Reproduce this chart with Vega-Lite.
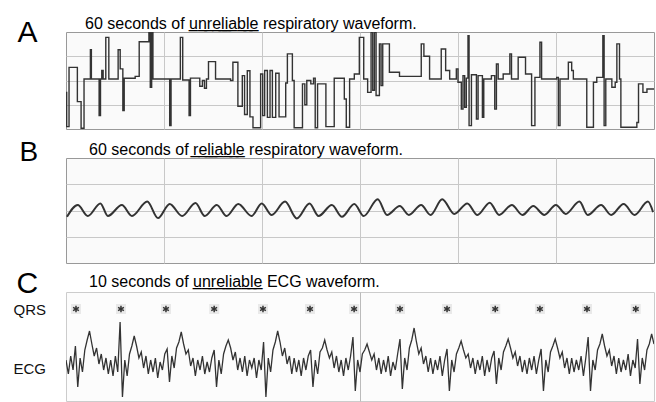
{
"$schema": "https://vega.github.io/schema/vega-lite/v6.json",
"background": "white",
"padding": {"left": 12, "top": 15, "right": 0, "bottom": 0},
"spacing": 29,
"bounds": "flush",
"config": {
  "font": "Liberation Sans",
  "view": {"stroke": "#999999", "fill": "#fafafa"},
  "title": {"anchor": "start", "fontSize": 16, "fontWeight": "normal", "color": "#000000", "font": "Liberation Sans", "frame": "group"},
  "axis": {"labelFont": "Liberation Sans", "titleFont": "Liberation Sans"}
},
"datasets": {
"resp_a": [
{"t":0,"v":1.51},{"t":0.07,"v":0.1},{"t":0.31,"v":2.54},{"t":1.16,"v":1.13},{"t":1.54,"v":0.03},{"t":1.84,"v":2.06},{"t":2.49,"v":3.27},{"t":2.59,"v":2.06},{"t":3.38,"v":0.55},{"t":3.52,"v":2.06},{"t":3.65,"v":2.41},{"t":3.79,"v":2.06},{"t":4.06,"v":3.78},{"t":4.37,"v":2.06},{"t":5.32,"v":3.27},{"t":5.53,"v":2.48},{"t":5.8,"v":0.76},{"t":5.94,"v":2.09},{"t":7.06,"v":2.17},{"t":7.47,"v":3.6},{"t":8.46,"v":3.99},{"t":8.6,"v":1.72},{"t":8.74,"v":3.99},{"t":8.87,"v":2.06},{"t":10.58,"v":0.14},{"t":10.72,"v":2.06},{"t":11.67,"v":3.78},{"t":11.91,"v":2.02},{"t":12.56,"v":0.55},{"t":12.7,"v":2.1},{"t":13.65,"v":1.76},{"t":13.92,"v":2.0},{"t":14.13,"v":1.68},{"t":14.33,"v":2.06},{"t":14.54,"v":2.78},{"t":15.26,"v":2.06},{"t":16.79,"v":2.0},{"t":17.03,"v":2.75},{"t":17.54,"v":0.94},{"t":17.99,"v":2.2},{"t":18.22,"v":0.6},{"t":18.5,"v":2.4},{"t":18.77,"v":0.5},{"t":19.08,"v":0.05},{"t":19.86,"v":2.27},{"t":20.07,"v":0.55},{"t":20.27,"v":2.41},{"t":20.55,"v":0.48},{"t":20.82,"v":2.41},{"t":21.06,"v":0.48},{"t":21.4,"v":2.3},{"t":21.74,"v":0.5},{"t":22.42,"v":1.9},{"t":22.59,"v":3.1},{"t":23.1,"v":2.0},{"t":23.28,"v":0.05},{"t":24.13,"v":1.86},{"t":24.37,"v":1.0},{"t":24.57,"v":2.0},{"t":24.98,"v":1.86},{"t":25.26,"v":2.1},{"t":25.43,"v":0.05},{"t":25.67,"v":1.86},{"t":26.52,"v":0.1},{"t":27.37,"v":2.09},{"t":28.4,"v":1.24},{"t":28.6,"v":0.07},{"t":28.94,"v":2.06},{"t":29.42,"v":2.27},{"t":29.93,"v":3.78},{"t":30.38,"v":2.06},{"t":30.78,"v":1.51},{"t":31.13,"v":3.99},{"t":31.3,"v":1.6},{"t":31.47,"v":3.99},{"t":31.64,"v":1.38},{"t":31.98,"v":3.51},{"t":32.15,"v":1.79},{"t":32.32,"v":3.51},{"t":33.0,"v":2.34},{"t":34.03,"v":2.17},{"t":36.25,"v":3.51},{"t":36.52,"v":3.0},{"t":37.1,"v":2.06},{"t":38.29,"v":3.3},{"t":38.74,"v":2.41},{"t":39.15,"v":2.06},{"t":39.83,"v":2.48},{"t":40.0,"v":1.93},{"t":40.34,"v":0.82},{"t":40.51,"v":2.2},{"t":40.68,"v":0.9},{"t":40.85,"v":2.1},{"t":41.02,"v":3.85},{"t":41.13,"v":0.14},{"t":41.37,"v":2.24},{"t":41.88,"v":0.41},{"t":42.05,"v":2.2},{"t":42.49,"v":0.48},{"t":42.63,"v":2.06},{"t":43.41,"v":2.2},{"t":43.75,"v":0.82},{"t":43.92,"v":2.68},{"t":44.1,"v":2.06},{"t":44.61,"v":2.27},{"t":45.29,"v":3.1},{"t":45.46,"v":2.06},{"t":46.14,"v":2.96},{"t":46.89,"v":2.27},{"t":47.51,"v":0.14},{"t":47.85,"v":2.13},{"t":48.36,"v":3.58},{"t":48.53,"v":2.06},{"t":50.07,"v":2.13},{"t":50.24,"v":0.14},{"t":50.41,"v":2.06},{"t":51.26,"v":2.75},{"t":51.6,"v":2.41},{"t":51.77,"v":2.06},{"t":53.14,"v":0.07},{"t":53.82,"v":1.93},{"t":54.16,"v":2.13},{"t":54.78,"v":3.85},{"t":54.91,"v":0.14},{"t":55.08,"v":2.06},{"t":55.7,"v":1.72},{"t":56.04,"v":1.93},{"t":56.21,"v":3.51},{"t":56.48,"v":2.06},{"t":56.62,"v":0.07},{"t":58.25,"v":0.27},{"t":58.42,"v":1.86},{"t":58.87,"v":1.51},{"t":59.28,"v":1.65},{"t":60,"v":1.65}
],
"resp_b": [
{"t":0.1,"v":1.76},{"t":1.2,"v":2.21},{"t":2.22,"v":1.79},{"t":3.51,"v":2.27},{"t":4.27,"v":1.79},{"t":5.7,"v":2.21},{"t":6.73,"v":1.79},{"t":8.29,"v":2.34},{"t":9.39,"v":1.71},{"t":10.58,"v":2.25},{"t":11.85,"v":1.79},{"t":13.21,"v":2.29},{"t":14.16,"v":1.79},{"t":15.39,"v":2.21},{"t":16.38,"v":1.79},{"t":17.58,"v":2.25},{"t":18.94,"v":1.79},{"t":19.97,"v":2.27},{"t":20.99,"v":1.83},{"t":22.35,"v":2.34},{"t":23.55,"v":1.7},{"t":24.85,"v":2.27},{"t":25.77,"v":1.79},{"t":27.13,"v":2.21},{"t":28.16,"v":1.76},{"t":29.42,"v":2.25},{"t":30.38,"v":1.79},{"t":31.81,"v":2.43},{"t":32.76,"v":1.83},{"t":34.06,"v":2.17},{"t":34.99,"v":1.83},{"t":36.24,"v":2.21},{"t":37.2,"v":1.83},{"t":38.39,"v":2.43},{"t":39.62,"v":1.87},{"t":40.95,"v":2.27},{"t":41.98,"v":1.83},{"t":43.24,"v":2.3},{"t":44.2,"v":1.83},{"t":45.49,"v":2.21},{"t":46.58,"v":1.83},{"t":47.68,"v":2.17},{"t":48.81,"v":1.83},{"t":49.99,"v":2.21},{"t":50.99,"v":1.87},{"t":52.39,"v":2.34},{"t":53.24,"v":1.83},{"t":54.6,"v":2.21},{"t":55.63,"v":1.83},{"t":56.9,"v":2.25},{"t":58.02,"v":1.83},{"t":59.38,"v":2.34},{"t":59.9,"v":1.94}
],
"ecg": [
{"t":0,"v":0.2},{"t":0.04,"v":-0.5},{"t":0.08,"v":0.4},{"t":0.12,"v":-0.3},{"t":0.16,"v":0.9},{"t":0.2,"v":-1.15},{"t":0.24,"v":0.3},{"t":0.28,"v":-0.4},{"t":0.32,"v":0.7},{"t":0.36,"v":1.2},{"t":0.4,"v":1.65},{"t":0.44,"v":1.0},{"t":0.48,"v":0.4},{"t":0.52,"v":0.8},{"t":0.56,"v":0.0},{"t":0.6,"v":0.5},{"t":0.64,"v":-0.3},{"t":0.68,"v":0.3},{"t":0.72,"v":-0.5},{"t":0.76,"v":0.2},{"t":0.8,"v":-0.6},{"t":0.84,"v":0.4},{"t":0.88,"v":-0.4},{"t":0.92,"v":2.1},{"t":0.96,"v":-1.65},{"t":1.0,"v":0.2},{"t":1.04,"v":-0.6},{"t":1.08,"v":0.5},{"t":1.12,"v":0.9},{"t":1.16,"v":1.4},{"t":1.2,"v":0.9},{"t":1.24,"v":0.3},{"t":1.28,"v":0.6},{"t":1.32,"v":-0.2},{"t":1.36,"v":0.4},{"t":1.4,"v":-0.5},{"t":1.44,"v":0.2},{"t":1.48,"v":-0.4},{"t":1.52,"v":0.3},{"t":1.56,"v":-0.7},{"t":1.6,"v":0.1},{"t":1.64,"v":-0.3},{"t":1.68,"v":0.5},{"t":1.72,"v":0.75},{"t":1.76,"v":-0.9},{"t":1.8,"v":0.4},{"t":1.84,"v":-0.2},{"t":1.88,"v":0.8},{"t":1.92,"v":1.1},{"t":1.96,"v":1.6},{"t":2.0,"v":1.0},{"t":2.04,"v":0.5},{"t":2.08,"v":0.7},{"t":2.12,"v":-0.1},{"t":2.16,"v":0.3},{"t":2.2,"v":-0.6},{"t":2.24,"v":0.2},{"t":2.28,"v":-0.3},{"t":2.32,"v":0.4},{"t":2.36,"v":-0.5},{"t":2.4,"v":0.1},{"t":2.44,"v":-0.4},{"t":2.48,"v":0.3},{"t":2.52,"v":0.7},{"t":2.56,"v":-1.15},{"t":2.6,"v":0.2},{"t":2.64,"v":-0.5},{"t":2.68,"v":0.5},{"t":2.72,"v":0.9},{"t":2.76,"v":1.2},{"t":2.8,"v":0.8},{"t":2.84,"v":0.2},{"t":2.88,"v":0.6},{"t":2.92,"v":-0.3},{"t":2.96,"v":0.3},{"t":3.0,"v":-0.4},{"t":3.04,"v":0.4},{"t":3.08,"v":-0.6},{"t":3.12,"v":0.2},{"t":3.16,"v":-0.2},{"t":3.2,"v":0.3},{"t":3.24,"v":-0.7},{"t":3.28,"v":0.2},{"t":3.32,"v":-0.3},{"t":3.36,"v":1.1},{"t":3.4,"v":-1.65},{"t":3.44,"v":0.3},{"t":3.48,"v":-0.4},{"t":3.52,"v":0.7},{"t":3.56,"v":1.1},{"t":3.6,"v":1.65},{"t":3.64,"v":1.1},{"t":3.68,"v":0.4},{"t":3.72,"v":0.8},{"t":3.76,"v":0.0},{"t":3.8,"v":0.4},{"t":3.84,"v":-0.5},{"t":3.88,"v":0.3},{"t":3.92,"v":-0.4},{"t":3.96,"v":0.2},{"t":4.0,"v":-0.6},{"t":4.04,"v":0.3},{"t":4.08,"v":-0.3},{"t":4.12,"v":0.4},{"t":4.16,"v":0.7},{"t":4.2,"v":-1.15},{"t":4.24,"v":0.2},{"t":4.28,"v":-0.5},{"t":4.32,"v":0.6},{"t":4.36,"v":0.8},{"t":4.4,"v":1.2},{"t":4.44,"v":0.7},{"t":4.48,"v":0.3},{"t":4.52,"v":0.6},{"t":4.56,"v":-0.2},{"t":4.6,"v":0.4},{"t":4.64,"v":-0.4},{"t":4.68,"v":0.2},{"t":4.72,"v":-0.6},{"t":4.76,"v":0.3},{"t":4.8,"v":-0.3},{"t":4.84,"v":0.4},{"t":4.88,"v":1.35},{"t":4.92,"v":-1.35},{"t":4.96,"v":0.2},{"t":5.0,"v":-0.4},{"t":5.04,"v":0.5},{"t":5.08,"v":0.7},{"t":5.12,"v":1.0},{"t":5.16,"v":0.6},{"t":5.2,"v":0.2},{"t":5.24,"v":0.5},{"t":5.28,"v":-0.3},{"t":5.32,"v":0.3},{"t":5.36,"v":-0.5},{"t":5.4,"v":0.2},{"t":5.44,"v":-0.4},{"t":5.48,"v":0.4},{"t":5.52,"v":-0.6},{"t":5.56,"v":0.1},{"t":5.6,"v":-0.3},{"t":5.64,"v":0.5},{"t":5.68,"v":1.25},{"t":5.72,"v":-1.25},{"t":5.76,"v":0.3},{"t":5.8,"v":-0.3},{"t":5.84,"v":0.8},{"t":5.88,"v":1.2},{"t":5.92,"v":1.8},{"t":5.96,"v":1.1},{"t":6.0,"v":0.5},{"t":6.04,"v":0.8},{"t":6.08,"v":0.0},{"t":6.12,"v":0.4},{"t":6.16,"v":-0.4},{"t":6.2,"v":0.3},{"t":6.24,"v":-0.5},{"t":6.28,"v":0.2},{"t":6.32,"v":-0.3},{"t":6.36,"v":0.4},{"t":6.4,"v":-0.6},{"t":6.44,"v":0.2},{"t":6.48,"v":0.75},{"t":6.52,"v":-1.35},{"t":6.56,"v":0.2},{"t":6.6,"v":-0.4},{"t":6.64,"v":0.5},{"t":6.68,"v":0.8},{"t":6.72,"v":1.15},{"t":6.76,"v":0.7},{"t":6.8,"v":0.3},{"t":6.84,"v":0.5},{"t":6.88,"v":-0.2},{"t":6.92,"v":0.3},{"t":6.96,"v":-0.5},{"t":7.0,"v":0.2},{"t":7.04,"v":-0.3},{"t":7.08,"v":0.4},{"t":7.12,"v":-0.6},{"t":7.16,"v":0.2},{"t":7.2,"v":-0.4},{"t":7.24,"v":0.3},{"t":7.28,"v":0.65},{"t":7.32,"v":-1.0},{"t":7.36,"v":0.3},{"t":7.4,"v":-0.3},{"t":7.44,"v":0.6},{"t":7.48,"v":0.9},{"t":7.52,"v":1.25},{"t":7.56,"v":0.8},{"t":7.6,"v":0.3},{"t":7.64,"v":0.6},{"t":7.68,"v":-0.1},{"t":7.72,"v":0.4},{"t":7.76,"v":-0.4},{"t":7.8,"v":0.2},{"t":7.84,"v":-0.5},{"t":7.88,"v":0.3},{"t":7.92,"v":-0.3},{"t":7.96,"v":0.4},{"t":8.0,"v":-0.5},{"t":8.04,"v":0.2},{"t":8.08,"v":0.75},{"t":8.12,"v":-1.35},{"t":8.16,"v":0.2},{"t":8.2,"v":-0.4},{"t":8.24,"v":0.6},{"t":8.28,"v":0.9},{"t":8.32,"v":1.25},{"t":8.36,"v":0.8},{"t":8.4,"v":0.3},{"t":8.44,"v":0.6},{"t":8.48,"v":-0.2},{"t":8.52,"v":0.3},{"t":8.56,"v":-0.5},{"t":8.6,"v":0.3},{"t":8.64,"v":-0.4},{"t":8.68,"v":0.2},{"t":8.72,"v":-0.3},{"t":8.76,"v":0.4},{"t":8.8,"v":-0.6},{"t":8.84,"v":0.3},{"t":8.88,"v":1.35},{"t":8.92,"v":-1.35},{"t":8.96,"v":0.2},{"t":9.0,"v":-0.3},{"t":9.04,"v":0.7},{"t":9.08,"v":1.0},{"t":9.12,"v":1.5},{"t":9.16,"v":0.9},{"t":9.2,"v":0.4},{"t":9.24,"v":0.7},{"t":9.28,"v":-0.1},{"t":9.32,"v":0.4},{"t":9.36,"v":-0.5},{"t":9.4,"v":0.3},{"t":9.44,"v":-0.4},{"t":9.48,"v":0.2},{"t":9.52,"v":-0.3},{"t":9.56,"v":0.5},{"t":9.6,"v":-0.6},{"t":9.64,"v":0.2},{"t":9.68,"v":-0.2},{"t":9.72,"v":1.25},{"t":9.76,"v":-1.0},{"t":9.8,"v":0.3},{"t":9.84,"v":-0.3},{"t":9.88,"v":0.7},{"t":9.92,"v":1.0},{"t":9.96,"v":1.5},{"t":10.0,"v":1.0}
],
"qrs": [
{"t":0.17,"v":2.75},{"t":0.935,"v":2.75},{"t":1.7,"v":2.75},{"t":2.52,"v":2.75},{"t":3.35,"v":2.75},{"t":4.15,"v":2.75},{"t":4.9,"v":2.75},{"t":5.68,"v":2.75},{"t":6.48,"v":2.75},{"t":7.3,"v":2.75},{"t":8.06,"v":2.75},{"t":8.86,"v":2.75},{"t":9.69,"v":2.75}
]
},
"vconcat": [
{
  "width": 588, "height": 97,
  "title": {"text": "60 seconds of u\u0332n\u0332r\u0332e\u0332l\u0332i\u0332a\u0332b\u0332l\u0332e\u0332 respiratory waveform.", "dx": 19, "dy": 33, "offset": 5, "baseline": "alphabetic"},
  "data": {"name": "resp_a"},
  "mark": {"type": "line", "interpolate": "step-after", "color": "#333333", "strokeWidth": 1.4, "clip": true},
  "encoding": {
    "x": {"field": "t", "type": "quantitative", "scale": {"domain": [0, 60], "nice": false, "zero": false},
          "axis": {"values": [10, 20, 30, 40, 50], "labels": false, "ticks": false, "domain": false, "title": null, "grid": true, "gridColor": "#c8c8c8", "gridOpacity": 1}},
    "y": {"field": "v", "type": "quantitative", "scale": {"domain": [0, 4], "nice": false, "zero": false},
          "axis": {"values": [1, 2, 3], "labels": false, "ticks": false, "domain": false, "grid": true, "gridColor": "#c8c8c8", "gridOpacity": 1,
                   "title": "A", "titleAngle": 0, "titleAlign": "left", "titleBaseline": "alphabetic", "titleX": -49, "titleY": 9, "titleFontSize": 30, "titleFontWeight": "normal", "titleColor": "#000000"}}
  }
},
{
  "width": 588, "height": 105,
  "title": {"text": "60 seconds of r\u0332e\u0332l\u0332i\u0332a\u0332b\u0332l\u0332e\u0332 respiratory waveform.", "dx": 23, "dy": 38, "offset": 5, "baseline": "alphabetic"},
  "data": {"name": "resp_b"},
  "mark": {"type": "line", "interpolate": "monotone", "color": "#333333", "strokeWidth": 2, "clip": true},
  "encoding": {
    "x": {"field": "t", "type": "quantitative", "scale": {"domain": [0, 60], "nice": false, "zero": false},
          "axis": {"values": [10, 20, 30, 40, 50], "labels": false, "ticks": false, "domain": false, "title": null, "grid": true, "gridColor": "#c8c8c8", "gridOpacity": 1}},
    "y": {"field": "v", "type": "quantitative", "scale": {"domain": [0, 4], "nice": false, "zero": false},
          "axis": {"values": [1, 2, 3], "labels": false, "ticks": false, "domain": false, "grid": true, "gridColor": "#c8c8c8", "gridOpacity": 1,
                   "title": "B", "titleAngle": 0, "titleAlign": "left", "titleBaseline": "alphabetic", "titleX": -47, "titleY": 2, "titleFontSize": 28, "titleFontWeight": "normal", "titleColor": "#000000"}}
  }
},
{
  "width": 588, "height": 109,
  "view": {"stroke": "#cccccc", "fill": "#fcfcfc"},
  "title": {"text": "10 seconds of u\u0332n\u0332r\u0332e\u0332l\u0332i\u0332a\u0332b\u0332l\u0332e\u0332 ECG waveform.", "dx": 23, "dy": 40, "offset": 5, "baseline": "alphabetic"},
  "layer": [
    {
      "data": {"name": "ecg"},
      "mark": {"type": "line", "color": "#333333", "strokeWidth": 1.3, "clip": true},
      "encoding": {
        "x": {"field": "t", "type": "quantitative", "scale": {"domain": [0, 10], "nice": false, "zero": false},
              "axis": {"values": [5], "labels": false, "ticks": false, "domain": false, "title": null, "grid": true, "gridColor": "#bbbbbb", "gridOpacity": 1}},
        "y": {"field": "v", "type": "quantitative", "scale": {"domain": [-1.85, 3.6], "nice": false, "zero": false},
              "axis": {"values": [2.75, -0.2], "labelExpr": "datum.value > 1 ? 'QRS' : 'ECG'", "labelAlign": "left", "labelBaseline": "middle", "labelPadding": 53, "labelFontSize": 15, "labelColor": "#111111", "ticks": false, "domain": false, "grid": false,
                       "title": "C", "titleAngle": 0, "titleAlign": "left", "titleBaseline": "alphabetic", "titleX": -50, "titleY": 0, "titleFontSize": 30, "titleFontWeight": "normal", "titleColor": "#000000"}}
      }
    },
    {
      "data": {"name": "qrs"},
      "mark": {"type": "point", "shape": "square", "filled": true, "color": "#e9e9e9", "opacity": 1, "size": 100},
      "encoding": {
        "x": {"field": "t", "type": "quantitative"},
        "y": {"field": "v", "type": "quantitative"}
      }
    },
    {
      "data": {"name": "qrs"},
      "mark": {"type": "point", "shape": "M0,-1L0,1M-0.87,-0.5L0.87,0.5M-0.87,0.5L0.87,-0.5", "filled": false, "stroke": "#333333", "strokeWidth": 1.5, "opacity": 1, "size": 45},
      "encoding": {
        "x": {"field": "t", "type": "quantitative"},
        "y": {"field": "v", "type": "quantitative"}
      }
    }
  ]
}
]
}
